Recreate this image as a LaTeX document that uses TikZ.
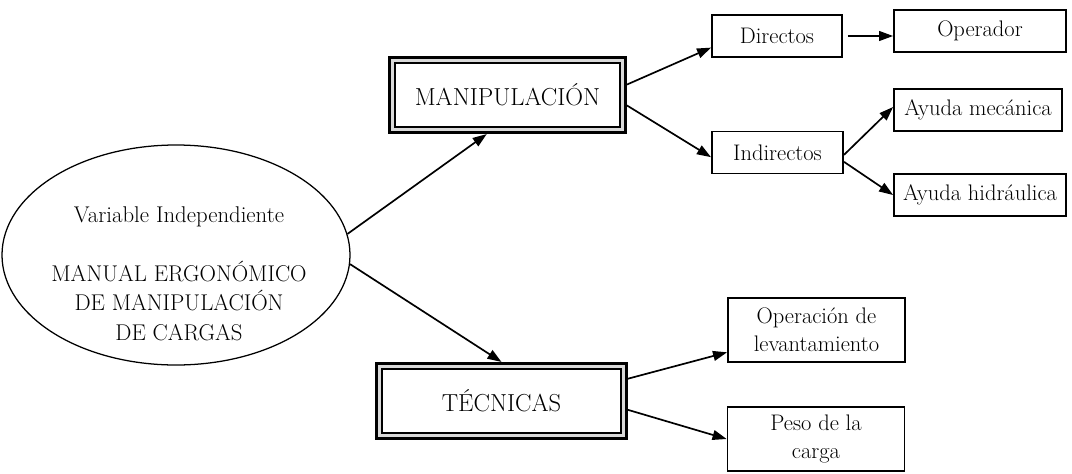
\documentclass[tikz,border=0pt]{standalone}
\usepackage{amsmath}
\usetikzlibrary{calc,positioning}
\usetikzlibrary{shapes.geometric,arrows.meta}

\begin{document}
\begin{tikzpicture}[caja/.style={draw,line width=1.3pt,inner sep=1pt,align=center,minimum height=1.05cm,font=\fontsize{16}{20}\selectfont},
    marco/.style={draw,line width=2.35pt,inner sep=0pt,minimum height=1.87cm,font=\fontsize{17.5}{21}\selectfont},
    flecha/.style={-{Triangle[length=10pt,width=7pt]},line width=1.2pt}]
\useasboundingbox (0,0) rectangle (26.8,11.825);
%\draw[step=0.5cm,help lines](0,0)grid(26.8,11.825);
    \node[ellipse,draw,line width=0.9pt,minimum width=8.7cm,minimum height=5.5cm] (var) at (4.4,5.45) {};
    \node[align=center,font=\fontsize{16.2}{21}\selectfont] (vartxt) at (4.475,4.99) {Variable Independiente\\[21pt]MANUAL ERGONÓMICO\\DE MANIPULACIÓN\\DE CARGAS};
    \node[marco,minimum width=5.89cm] (man) at (12.6875,9.45) {MANIPULACIÓN};
    \node[marco,minimum width=6.24cm] (tec) at (12.5375,1.8) {TÉCNICAS};
    \foreach \n in {man,tec}
    {\draw[gray!30,line width=1.9pt] ([shift={(3.3pt,3.3pt)}]\n.south west) rectangle ([shift={(-3.3pt,-3.3pt)}]\n.north east);
     \draw[line width=1.4pt] ([shift={(5pt,5pt)}]\n.south west) rectangle ([shift={(-5pt,-5pt)}]\n.north east);}
    \node[caja,minimum width=3.25cm] (dir) at (19.425,10.925) {Directos};
    \node[caja,minimum width=4.3cm] (ope) at (24.5,11.05) {Operador};
    \node[caja,minimum width=3.28cm] (ind) at (19.4375,8.0125) {Indirectos};
    \node[caja,minimum width=4.2cm] (mec) at (24.45,9.075) {Ayuda mecánica};
    \node[caja,minimum width=4.3cm] (hid) at (24.5,6.95) {Ayuda hidráulica};
    \node[caja,minimum width=4.425cm,minimum height=1.6cm] (lev) at (20.4125,3.575) {Operación de\\levantamiento};
    \node[caja,minimum width=4.425cm,minimum height=1.6cm] (pes) at (20.4,0.85) {Peso de la\\carga};
    \draw[flecha] (var.7) -- (man.242);
    \draw[flecha] (var.-3) -- (tec.north);
    \draw[flecha] (man.5) -- (dir.190);
    \draw[flecha] (man.-5) -- (ind.184);
    \draw[flecha,shorten <=0.125cm] (dir.east) -- (dir.east -| ope.west);
    \draw[flecha] (ind.-2) -- (mec.178);
    \draw[flecha] (ind.-8) -- (hid.west);
    \draw[flecha] (tec.10) -- (lev.194);
    \draw[flecha] (tec.-4) -- (pes.west);
\end{tikzpicture}
\end{document}
